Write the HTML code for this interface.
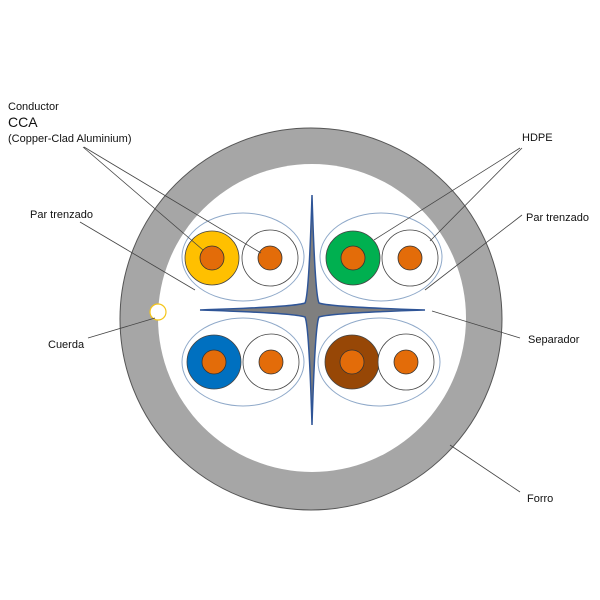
<!DOCTYPE html>
<html><head><style>body{margin:0;background:#fff}svg{display:block}text{font-family:"Liberation Sans",sans-serif;font-size:11px;fill:#111}</style></head><body>
<svg width="600" height="600" viewBox="0 0 600 600">
<circle cx="311" cy="319" r="191" fill="#a6a6a6" stroke="#555" stroke-width="1"/>
<circle cx="312" cy="318" r="154" fill="#fff"/>
<circle cx="158" cy="312" r="8" fill="#fff" stroke="#f5c518" stroke-width="1.2"/>
<g fill="none" stroke="#8fa9c9" stroke-width="1">
<ellipse cx="243" cy="257" rx="61" ry="44"/>
<ellipse cx="381" cy="257" rx="61" ry="44"/>
<ellipse cx="243" cy="362" rx="61" ry="44"/>
<ellipse cx="379" cy="362" rx="61" ry="44"/>
</g>
<path d="M312 195 Q315 295 319 303 Q330 307 425 310 Q330 313 319 317 Q315 325 312 425 Q309 325 305 317 Q294 313 200 310 Q294 307 305 303 Q309 295 312 195 Z" fill="#7f7f7f" stroke="#2f5597" stroke-width="1.5"/>
<g stroke="#444" stroke-width="0.8">
<circle cx="212" cy="258" r="27" fill="#ffc000"/>
<circle cx="270" cy="258" r="28" fill="#fff"/>
<circle cx="353" cy="258" r="27" fill="#00b050"/>
<circle cx="410" cy="258" r="28" fill="#fff"/>
<circle cx="214" cy="362" r="27" fill="#0070c0"/>
<circle cx="271" cy="362" r="28" fill="#fff"/>
<circle cx="352" cy="362" r="27" fill="#974706"/>
<circle cx="406" cy="362" r="28" fill="#fff"/>
</g>
<g fill="#e36c09" stroke="#333" stroke-width="0.8">
<circle cx="212" cy="258" r="12"/><circle cx="270" cy="258" r="12"/>
<circle cx="353" cy="258" r="12"/><circle cx="410" cy="258" r="12"/>
<circle cx="214" cy="362" r="12"/><circle cx="271" cy="362" r="12"/>
<circle cx="352" cy="362" r="12"/><circle cx="406" cy="362" r="12"/>
</g>
<g stroke="#444" stroke-width="0.8">
<line x1="83" y1="147" x2="203" y2="250"/>
<line x1="84" y1="147" x2="261" y2="253"/>
<line x1="520" y1="148" x2="374" y2="240"/>
<line x1="522" y1="148" x2="430" y2="241"/>
<line x1="80" y1="222" x2="195" y2="290"/>
<line x1="522" y1="215" x2="425" y2="290"/>
<line x1="520" y1="338" x2="432" y2="311"/>
<line x1="88" y1="338" x2="155" y2="318"/>
<line x1="520" y1="492" x2="450" y2="445"/>
</g>
<text x="8" y="110">Conductor</text>
<text x="8" y="127" style="font-size:14px">CCA</text>
<text x="8" y="142">(Copper-Clad Aluminium)</text>
<text x="30" y="218">Par trenzado</text>
<text x="48" y="348">Cuerda</text>
<text x="522" y="141">HDPE</text>
<text x="526" y="221">Par trenzado</text>
<text x="528" y="343">Separador</text>
<text x="527" y="502">Forro</text>
</svg>
</body></html>
